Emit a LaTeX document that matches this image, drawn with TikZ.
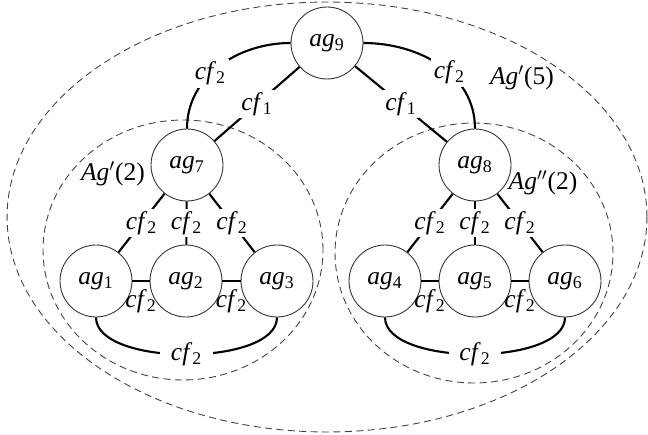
\documentclass[tikz,border=0pt]{standalone}
\usepackage{fontspec}
\setmainfont{Liberation Serif}
\newcommand{\agt}[1]{\textit{ag}\textsubscript{#1}}
\newcommand{\cft}[1]{\textit{cf}\textsubscript{#1}}

\begin{document}
\begin{tikzpicture}[x=0.02cm,y=0.02cm,font=\fontsize{14.5}{17}\selectfont,
  agent/.style={circle,draw=black!80,line width=0.5pt,fill=white,minimum size=1.44cm,inner sep=0pt},
  link/.style={line width=1.2pt},
  lbl/.style={fill=white,inner sep=1.5pt},
  group/.style={draw=black!75,line width=0.5pt,dash pattern=on 4pt off 2.5pt}]
\useasboundingbox (0,0) rectangle (648,-435);

\draw[group] (327,-217) ellipse [x radius=6.4cm, y radius=4.3cm];
\draw[group] (183,-250) ellipse [x radius=2.8cm, y radius=2.6cm];
\draw[group] (474,-253) ellipse [x radius=2.78cm, y radius=2.6cm];

\node[agent] (ag9) at (327,-43) {\agt{9}};
\node[agent] (ag7) at (187,-165) {\agt{7}};
\node[agent] (ag8) at (475,-165) {\agt{8}};
\node[agent] (ag1) at (96,-281) {\agt{1}};
\node[agent] (ag2) at (186,-281) {\agt{2}};
\node[agent] (ag3) at (277,-281) {\agt{3}};
\node[agent] (ag4) at (385,-281) {\agt{4}};
\node[agent] (ag5) at (475,-281) {\agt{5}};
\node[agent] (ag6) at (565,-281) {\agt{6}};

\draw[link] (ag9) -- node[lbl]{\cft{1}} (ag7);
\draw[link] (ag9) -- node[lbl]{\cft{1}} (ag8);
\draw[link] (ag9.west) to[out=180,in=90] node[lbl,pos=0.58]{\cft{2}} (ag7.north);
\draw[link] (ag9.east) to[out=0,in=90] node[lbl,pos=0.58]{\cft{2}} (ag8.north);

\foreach \t/\a/\b/\c in {ag7/ag1/ag2/ag3,ag8/ag4/ag5/ag6}{
  \draw[link] (\t) -- node[lbl]{\cft{2}} (\a);
  \draw[link] (\t) -- node[lbl]{\cft{2}} (\b);
  \draw[link] (\t) -- node[lbl]{\cft{2}} (\c);
  \draw[link] (\a) -- node[below=1pt]{\cft{2}} (\b);
  \draw[link] (\b) -- node[below=1pt]{\cft{2}} (\c);
  \draw[link] (\a.south) to[out=-90,in=-90,looseness=0.7] node[lbl,inner xsep=6pt]{\cft{2}} (\c.south);
}

\node (g5) at (522,-78) {\textit{Ag}$'$(5)};
\node (g2a) at (113,-174) {\textit{Ag}$'$(2)};
\node (g2b) at (543,-183) {\textit{Ag}$''$(2)};
\end{tikzpicture}
\end{document}
